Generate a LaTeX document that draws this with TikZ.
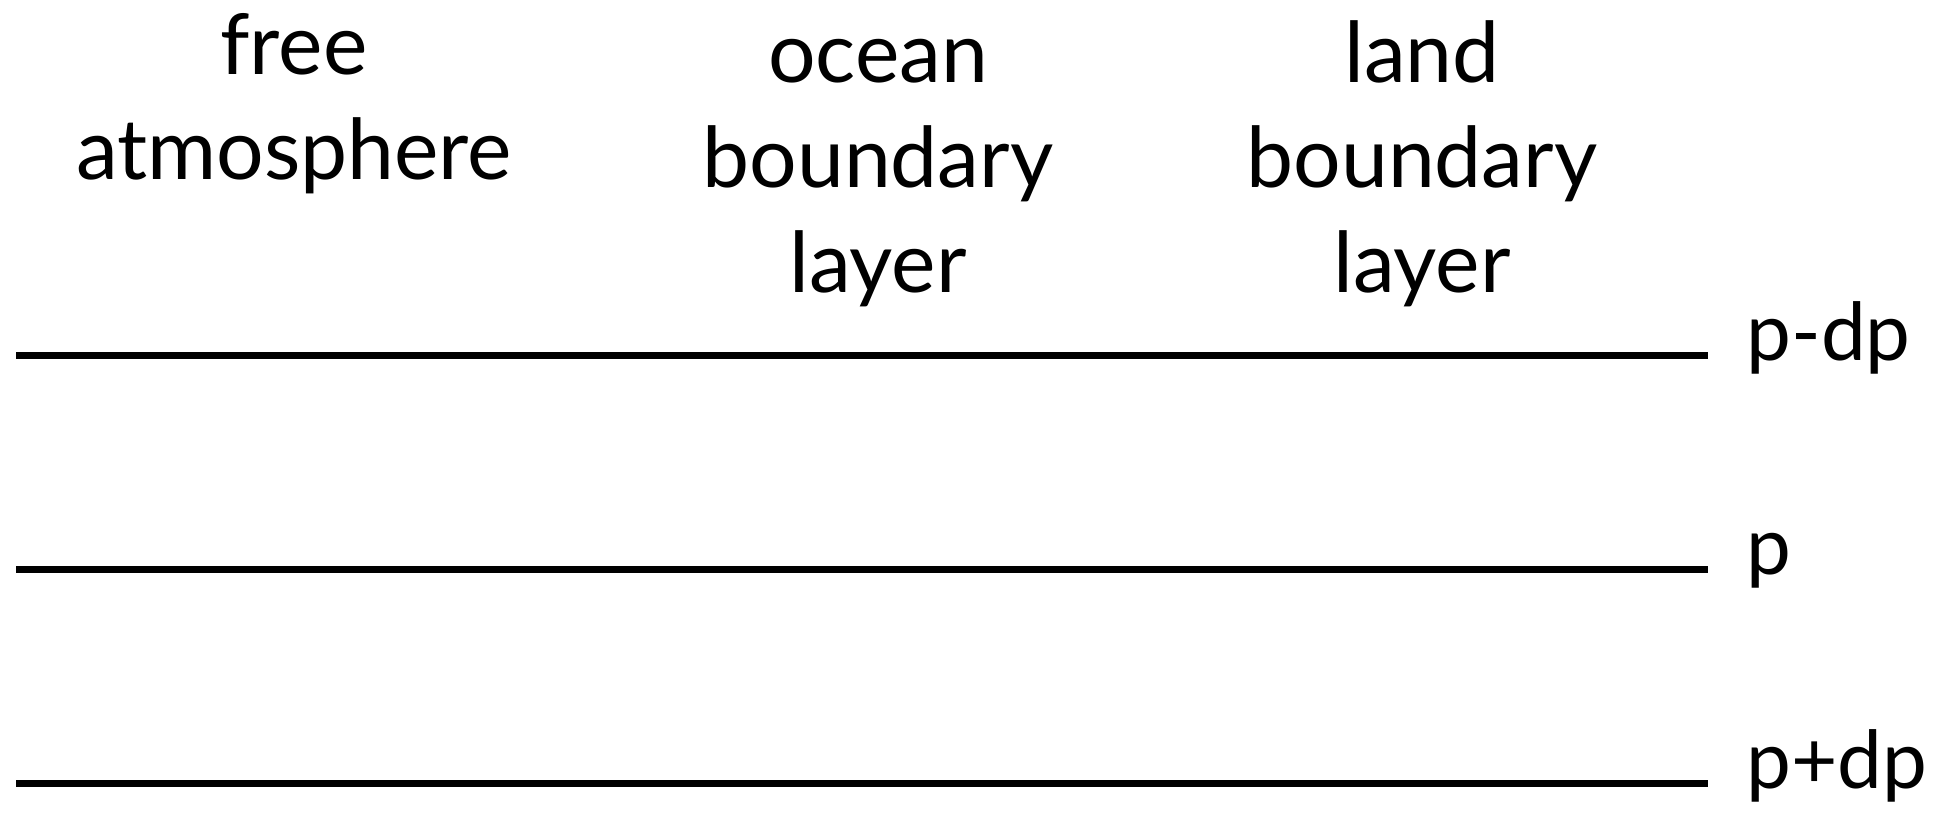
\documentclass[tikz,border=0pt]{standalone}
\usepackage{fontspec}
\setmainfont{Lato}
\begin{document}
\begin{tikzpicture}[x=0.5pt,y=-0.5pt,
  level/.style={line width=3.25pt, line cap=butt},
  toplabel/.style={anchor=base, align=center, inner sep=0pt, font=\fontsize{42}{52.5}\selectfont},
  plabel/.style={anchor=mid west, inner sep=0pt, font=\fontsize{40}{48}\selectfont}]
\useasboundingbox[fill=white] (0,0) rectangle (1946,819);
% top labels (anchored at the baseline of the last line)
\node[toplabel] (free) at (294,179) {free\\atmosphere};
\node[toplabel] (ocean) at (878,292) {ocean\\boundary\\layer};
\node[toplabel] (land) at (1422,292) {land\\boundary\\layer};
% levels
\coordinate (a1) at (16,355.5);  \coordinate (b1) at (1708,355.5);
\coordinate (a2) at (16,569.7);  \coordinate (b2) at (1708,569.7);
\coordinate (a3) at (16,783.7);  \coordinate (b3) at (1708,783.7);
\draw[level] (a1) -- (b1);
\draw[level] (a2) -- (b2);
\draw[level] (a3) -- (b3);
\node[plabel] (pm) at ([xshift=19pt]b1) {p-dp};
\node[plabel] (p0) at ([xshift=19pt]b2) {p};
\node[plabel] (pp) at ([xshift=19pt]b3) {p+dp};
\end{tikzpicture}
\end{document}
